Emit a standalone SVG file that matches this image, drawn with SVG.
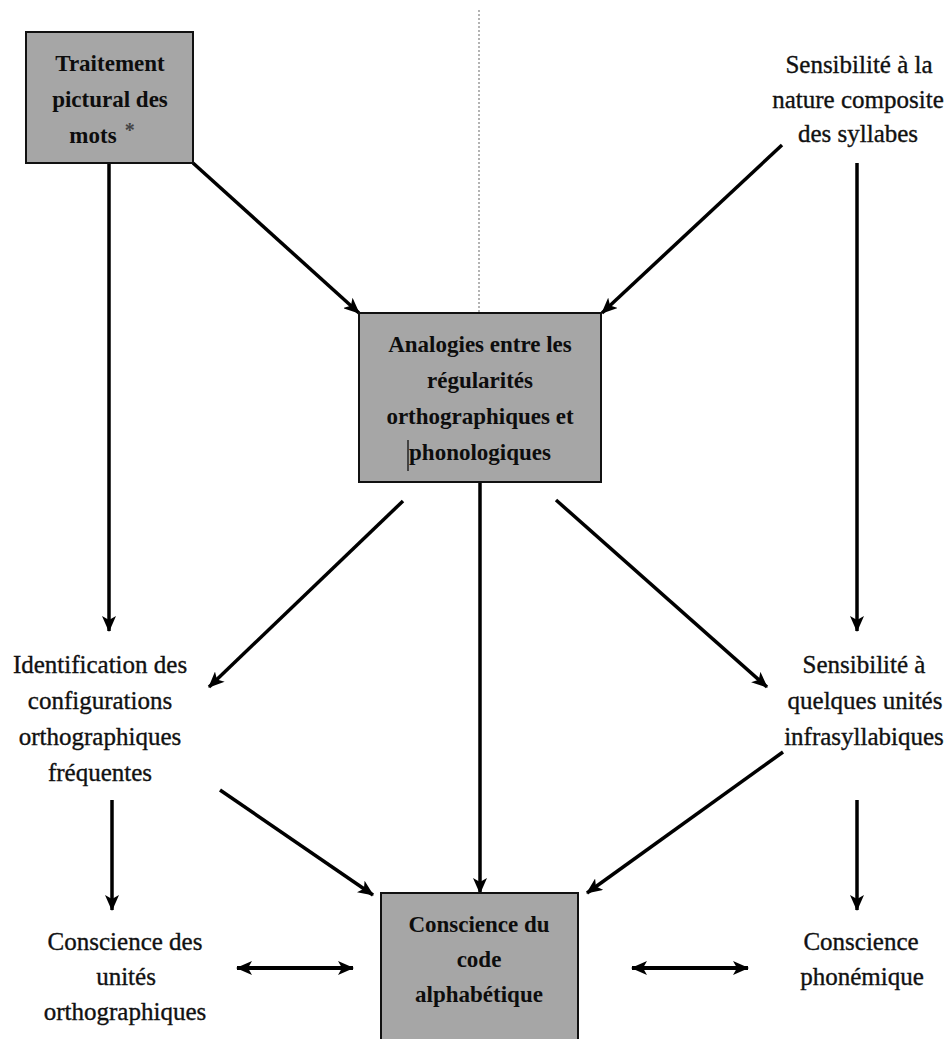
<svg xmlns="http://www.w3.org/2000/svg" width="949" height="1039" viewBox="0 0 949 1039">
  <style>
    .box { fill: #a6a6a6; stroke: #111; stroke-width: 2; }
    .bt { font-family: "Liberation Serif", "Times New Roman", serif; font-weight: bold; font-size: 23px; fill: #0d0d0d; text-anchor: middle; }
    .lt { font-family: "Liberation Serif", "Times New Roman", serif; font-size: 25px; fill: #111; stroke: #111; stroke-width: 0.35; text-anchor: middle; }
    .arr { stroke: #000; stroke-width: 3.5; fill: none; marker-end: url(#head); }
    .dbl { stroke: #000; stroke-width: 4; fill: none; marker-start: url(#tail); marker-end: url(#head); }
  </style>
  <defs>
    <marker id="head" markerUnits="userSpaceOnUse" markerWidth="16" markerHeight="14" refX="15" refY="7" orient="auto">
      <path d="M0,0 L16,7 L0,14 L4,7 z" fill="#000"/>
    </marker>
    <marker id="tail" markerUnits="userSpaceOnUse" markerWidth="16" markerHeight="14" refX="1" refY="7" orient="auto">
      <path d="M16,0 L0,7 L16,14 L12,7 z" fill="#000"/>
    </marker>
  </defs>
  <rect width="949" height="1039" fill="#fff"/>

  <!-- dotted divider -->
  <line x1="479" y1="10" x2="479" y2="313" stroke="#9a9a9a" stroke-width="1.5" stroke-dasharray="2 2"/>

  <g id="connectors">
    <line class="arr" x1="109" y1="163" x2="109" y2="631"/>
    <line class="arr" x1="193" y1="163" x2="359" y2="313"/>
    <line class="arr" x1="782" y1="145" x2="602" y2="313"/>
    <line class="arr" x1="857" y1="163" x2="857" y2="631"/>
    <line class="arr" x1="480" y1="482" x2="480" y2="893"/>
    <line class="arr" x1="403" y1="501" x2="209" y2="687"/>
    <line class="arr" x1="556" y1="500" x2="767" y2="687"/>
    <line class="arr" x1="220" y1="790" x2="373" y2="895"/>
    <line class="arr" x1="783" y1="752" x2="587" y2="893"/>
    <line class="arr" x1="112" y1="800" x2="112" y2="910"/>
    <line class="arr" x1="857" y1="800" x2="857" y2="910"/>
    <line class="dbl" x1="237" y1="968" x2="353" y2="968"/>
    <line class="dbl" x1="632" y1="968" x2="748" y2="968"/>
  </g>

  <g id="traitement">
    <rect class="box" x="26" y="32" width="167" height="131"/>
    <text class="bt" x="110" y="71">Traitement</text>
    <text class="bt" x="110" y="107">pictural des</text>
    <text class="bt" x="102" y="143">mots<tspan font-size="20" dx="8" dy="-6" fill="#444">*</tspan></text>
  </g>

  <g id="sensibilite-syllabes">
    <text class="lt" x="859" y="73">Sensibilité à la</text>
    <text class="lt" x="858" y="108">nature composite</text>
    <text class="lt" x="858" y="142">des syllabes</text>
  </g>

  <g id="analogies">
    <rect class="box" x="359" y="313" width="242" height="169"/>
    <text class="bt" x="480" y="352">Analogies entre les</text>
    <text class="bt" x="480" y="388">régularités</text>
    <text class="bt" x="480" y="424">orthographiques et</text>
    <text class="bt" x="480" y="460">phonologiques</text>
    <line x1="408" y1="440" x2="408" y2="471" stroke="#222" stroke-width="1.5"/>
  </g>

  <g id="identification">
    <text class="lt" x="100" y="673">Identification des</text>
    <text class="lt" x="100" y="709">configurations</text>
    <text class="lt" x="100" y="745">orthographiques</text>
    <text class="lt" x="100" y="781">fréquentes</text>
  </g>

  <g id="sensibilite-infra">
    <text class="lt" x="864" y="673">Sensibilité à</text>
    <text class="lt" x="865" y="709">quelques unités</text>
    <text class="lt" x="864" y="745">infrasyllabiques</text>
  </g>

  <g id="conscience-code">
    <rect class="box" x="381" y="893" width="197" height="160"/>
    <text class="bt" x="479" y="932">Conscience du</text>
    <text class="bt" x="479" y="967">code</text>
    <text class="bt" x="479" y="1002">alphabétique</text>
  </g>

  <g id="conscience-unites">
    <text class="lt" x="125" y="950">Conscience des</text>
    <text class="lt" x="126" y="985">unités</text>
    <text class="lt" x="125" y="1020">orthographiques</text>
  </g>

  <g id="conscience-phonemique">
    <text class="lt" x="861" y="950">Conscience</text>
    <text class="lt" x="862" y="985">phonémique</text>
  </g>
</svg>
